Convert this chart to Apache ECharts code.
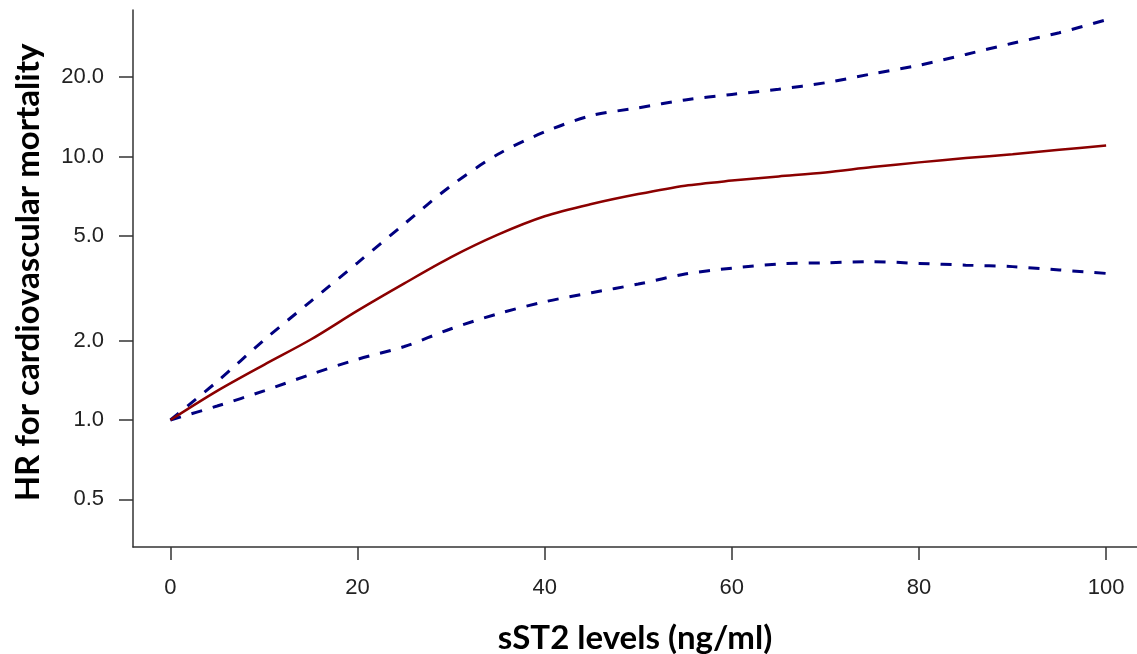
<!DOCTYPE html>
<html>
<head>
<meta charset="utf-8">
<script src="https://cdn.jsdelivr.net/npm/echarts@6/dist/echarts.min.js"></script>
<style>
html,body{margin:0;padding:0;background:#fff;}
#c{width:1137px;height:654px;}
</style>
</head>
<body>
<div id="c"></div>
<script>
// sST2 levels (ng/ml)
var sst2 = [0, 5, 10, 15, 20, 25, 30, 35, 40, 45, 50, 55, 60, 65, 70, 75, 80, 85, 90, 95, 100];
// Hazard ratio (point estimate)
var hr = [1.0, 1.29, 1.62, 2.02, 2.60, 3.3, 4.15, 5.05, 5.93, 6.6, 7.2, 7.75, 8.1, 8.4, 8.7, 9.12, 9.5, 9.86, 10.2, 10.6, 11.0];
// Upper 95% CI
var upperCI = [1.0, 1.40, 2.01, 2.82, 3.95, 5.55, 7.75, 10.2, 12.4, 14.3, 15.3, 16.4, 17.2, 18.0, 19.05, 20.6, 22.2, 24.4, 26.9, 29.5, 33.0];
// Lower 95% CI
var lowerCI = [1.0, 1.13, 1.29, 1.49, 1.70, 1.90, 2.22, 2.53, 2.81, 3.04, 3.28, 3.58, 3.77, 3.91, 3.95, 3.99, 3.93, 3.87, 3.82, 3.71, 3.6];
// Tick labels
var yTicks = [0.5, 1.0, 2.0, 5.0, 10.0, 20.0];
var xTicks = [0, 20, 40, 60, 80, 100];

function pairs(vals) {
  return sst2.map(function (x, i) { return [x, Math.log10(vals[i])]; });
}
var yTickPos = yTicks.map(function (v) { return Math.log10(v); });

var chart = echarts.init(document.getElementById('c'), null, {renderer: 'canvas'});
var axisColor = '#333';
chart.setOption({
  animation: false,
  backgroundColor: '#fff',
  grid: {left: 133, right: 0, top: 10, bottom: 107, containLabel: false, outerBoundsMode: 'none'},
  xAxis: {
    type: 'value',
    min: -4, max: 103.3,
    name: 'sST2 levels (ng/ml)',
    nameLocation: 'middle',
    nameGap: 75,
    nameTextStyle: {fontFamily: 'Lato', fontWeight: 'bold', fontSize: 33, color: '#000'},
    axisLine: {show: true, onZero: false, lineStyle: {color: axisColor, width: 1.5}},
    axisTick: {show: true, inside: false, length: 13, customValues: xTicks, lineStyle: {color: axisColor, width: 1.5}},
    axisLabel: {customValues: xTicks, margin: 30, fontFamily: 'Liberation Sans', fontSize: 22, color: '#222'},
    splitLine: {show: false}
  },
  yAxis: {
    type: 'value',
    min: -0.482, max: 1.556,
    name: 'HR for cardiovascular mortality',
    nameLocation: 'middle',
    nameGap: 88,
    nameTextStyle: {fontFamily: 'Lato', fontWeight: 'bold', fontSize: 33, color: '#000', padding: [0, 0, 0, 12]},
    axisLine: {show: true, onZero: false, lineStyle: {color: axisColor, width: 1.5}},
    axisTick: {show: true, inside: false, length: 14, customValues: yTickPos, lineStyle: {color: axisColor, width: 1.5}},
    axisLabel: {
      customValues: yTickPos, margin: 29, fontFamily: 'Liberation Sans', fontSize: 22, color: '#222',
      formatter: function (v) {
        var best = yTicks[0], d = Infinity;
        yTicks.forEach(function (t) { var dd = Math.abs(Math.log10(t) - v); if (dd < d) { d = dd; best = t; } });
        return best.toFixed(1);
      }
    },
    splitLine: {show: false}
  },
  series: [
    {type: 'line', name: 'Upper', data: pairs(upperCI), smooth: 0.3, symbol: 'none',
     lineStyle: {color: '#000080', width: 3, type: [11, 11]}},
    {type: 'line', name: 'Lower', data: pairs(lowerCI), smooth: 0.3, symbol: 'none',
     lineStyle: {color: '#000080', width: 3, type: [11, 11]}},
    {type: 'line', name: 'HR', data: pairs(hr), smooth: 0.3, symbol: 'none',
     lineStyle: {color: '#8B0000', width: 2.5}}
  ]
});
</script>
</body>
</html>
